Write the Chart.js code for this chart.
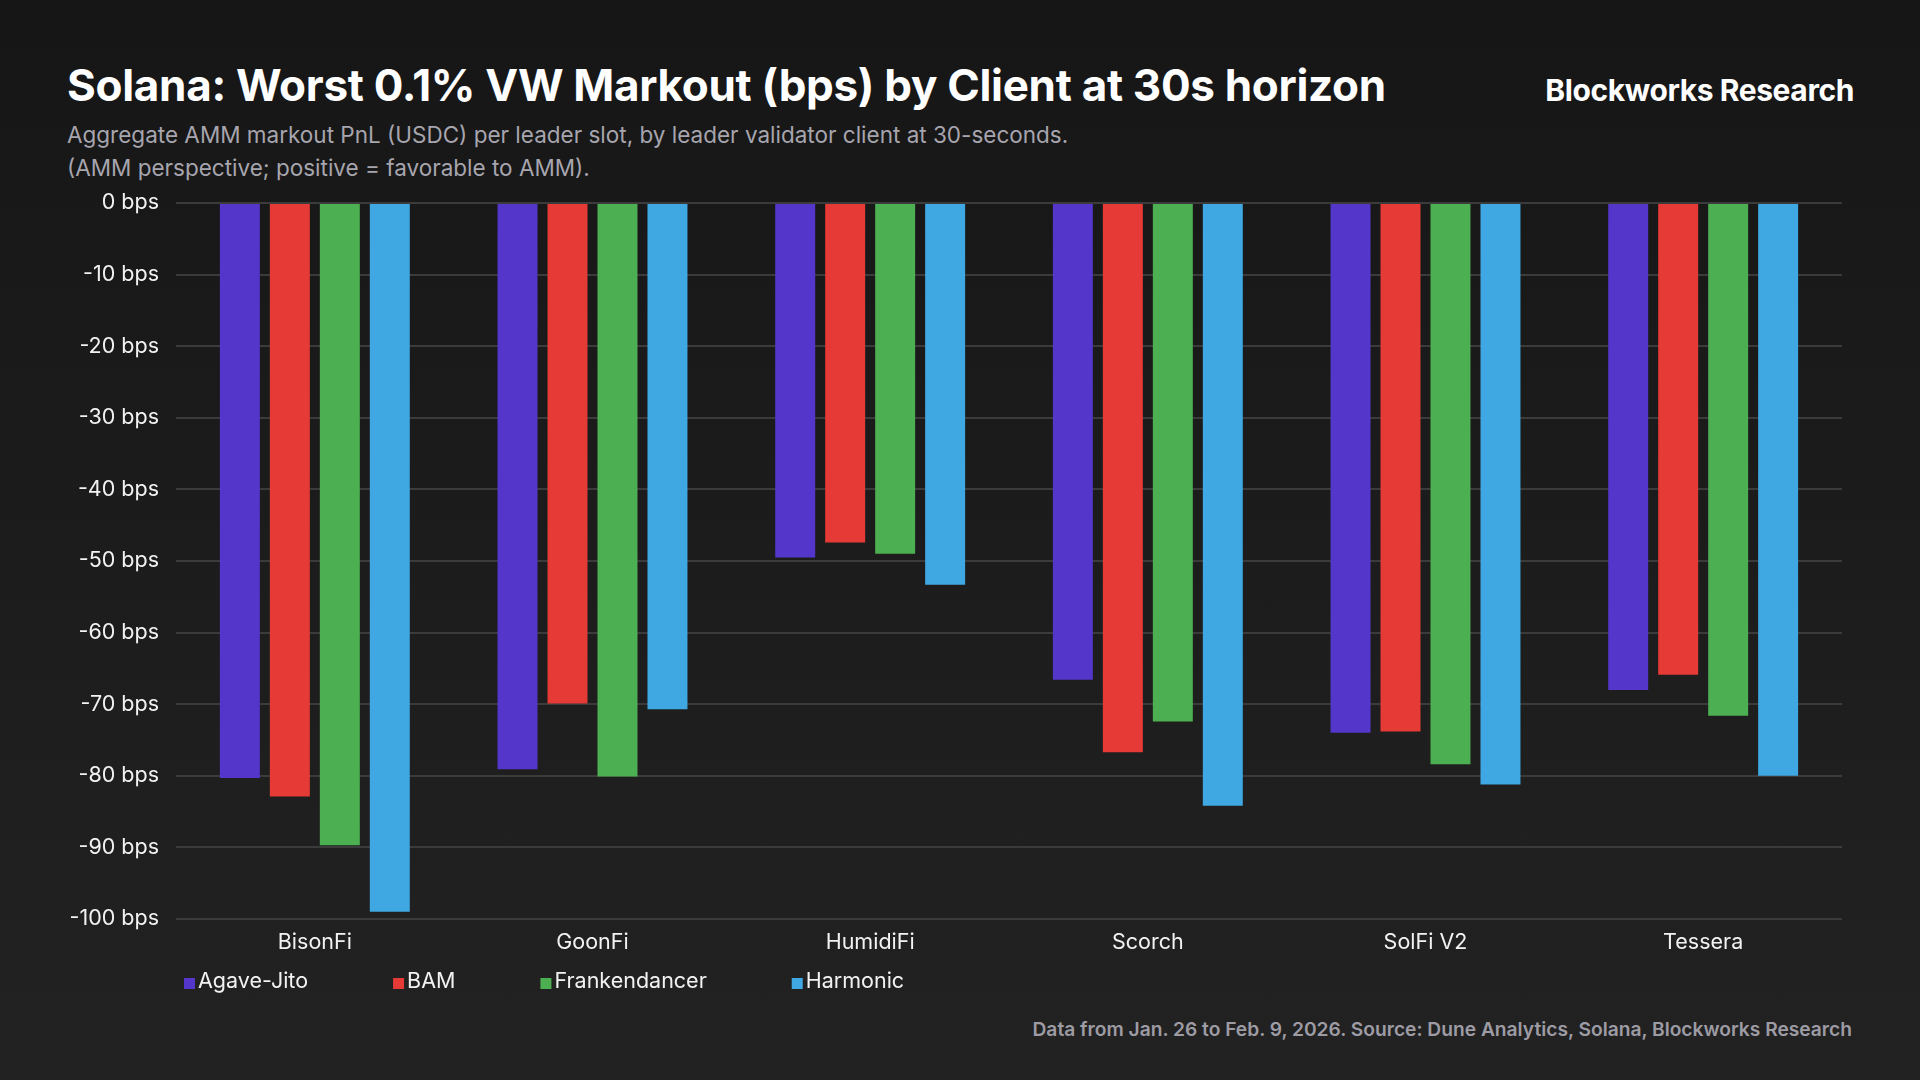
<!DOCTYPE html>
<html>
<head>
<meta charset="utf-8">
<script src="https://cdn.jsdelivr.net/npm/chart.js@4.4.1/dist/chart.umd.min.js"></script>
<style>
  html, body { margin: 0; padding: 0; }
  body {
    width: 1920px; height: 1080px; overflow: hidden; position: relative;
    background: linear-gradient(180deg, #161616 0%, #1c1c1c 50%, #222222 100%);
    font-family: Inter, "Noto Sans", sans-serif;
  }
  .txt { position: absolute; white-space: nowrap; line-height: 1; }
  #title { left: 67px; top: 63px; font-size: 44px; font-weight: 700; color: #ffffff; letter-spacing: -0.3px; }
  #brand { right: 66px; top: 75px; font-size: 30px; font-weight: 700; color: #ffffff; letter-spacing: -0.4px; }
  #sub1 { left: 67px; top: 124px; font-size: 22.5px; color: #a7a5ae; }
  #sub2 { left: 67px; top: 157px; font-size: 22.5px; color: #a7a5ae; }
  #footer { right: 68px; top: 1020px; font-size: 19.2px; font-weight: 600; color: #9d9ba4; }
  #wrap { position: absolute; left: 0; top: 0; width: 1920px; height: 1080px; }
</style>
</head>
<body>
<div class="txt" id="title">Solana: Worst 0.1% VW Markout (bps) by Client at 30s horizon</div>
<div class="txt" id="brand">Blockworks Research</div>
<div class="txt" id="sub1">Aggregate AMM markout PnL (USDC) per leader slot, by leader validator client at 30-seconds.</div>
<div class="txt" id="sub2">(AMM perspective; positive = favorable to AMM).</div>
<div class="txt" id="footer">Data from Jan. 26 to Feb. 9, 2026. Source: Dune Analytics, Solana, Blockworks Research</div>
<div id="wrap"><canvas id="chart" width="1920" height="1080"></canvas></div>

<script>
// data (bps)
const categories = ["BisonFi", "GoonFi", "HumidiFi", "Scorch", "SolFi V2", "Tessera"];
const agaveJito = [-80.3, -79.1, -49.5, -66.6, -74.0, -68.0];
const bam = [-82.9, -69.9, -47.4, -76.7, -73.8, -65.9];
const frankendancer = [-89.7, -80.1, -49.0, -72.4, -78.4, -71.6];
const harmonic = [-99.0, -70.7, -53.3, -84.2, -81.2, -80.0];
const seriesNames = ["Agave-Jito", "BAM", "Frankendancer", "Harmonic"];
const yTicks = [0, -10, -20, -30, -40, -50, -60, -70, -80, -90, -100];

const colores = ["#5436CA", "#E53A36", "#4CAF51", "#3FA8E2"];
const grid = "#3b3b3b";
const fuente = "Inter, 'Noto Sans', sans-serif";

// legend drawn under the x axis, starting at the plot's left edge
const leyenda = {
  id: "leyenda",
  afterDraw(chart) {
    const ctx = chart.ctx;
    let x = chart.scales.x.left + 8;
    const y = 982;
    ctx.save();
    ctx.font = "21.5px " + fuente;
    ctx.textBaseline = "middle";
    chart.data.datasets.forEach(ds => {
      ctx.fillStyle = ds.backgroundColor;
      ctx.fillRect(x, y - 4, 11, 11);
      ctx.fillStyle = "#f2f2f2";
      ctx.fillText(ds.label, x + 14, y);
      x += 14 + ctx.measureText(ds.label).width + 85;
    });
    ctx.restore();
  }
};

const valores = [agaveJito, bam, frankendancer, harmonic];

new Chart(document.getElementById("chart"), {
  type: "bar",
  data: {
    labels: categories,
    datasets: seriesNames.map((n, i) => ({
      label: n,
      data: valores[i],
      backgroundColor: colores[i],
      borderWidth: 0,
      barPercentage: 0.8,
      categoryPercentage: 0.72
    }))
  },
  options: {
    responsive: false,
    animation: false,
    devicePixelRatio: 1,
    layout: { padding: { left: 0, right: 78, top: 203, bottom: 121 } },
    plugins: {
      legend: { display: false },
      tooltip: { enabled: false }
    },
    scales: {
      x: {
        grid: { display: false },
        border: { display: false },
        ticks: {
          color: "#f2f2f2",
          font: { family: fuente, size: 21.5 },
          padding: 3
        },
        afterFit(s) { s.height = 40; }
      },
      y: {
        min: -100,
        max: 0,
        afterBuildTicks(s) { s.ticks = yTicks.map(v => ({ value: v })); },
        grid: { color: grid, lineWidth: 2, drawTicks: false },
        border: { display: false },
        ticks: {
          color: "#f2f2f2",
          font: { family: fuente, size: 21.5 },
          padding: 17,
          callback: v => v + " bps"
        },
        afterFit(s) { s.width = 176; }
      }
    }
  },
  plugins: [leyenda]
});
</script>
</body>
</html>
